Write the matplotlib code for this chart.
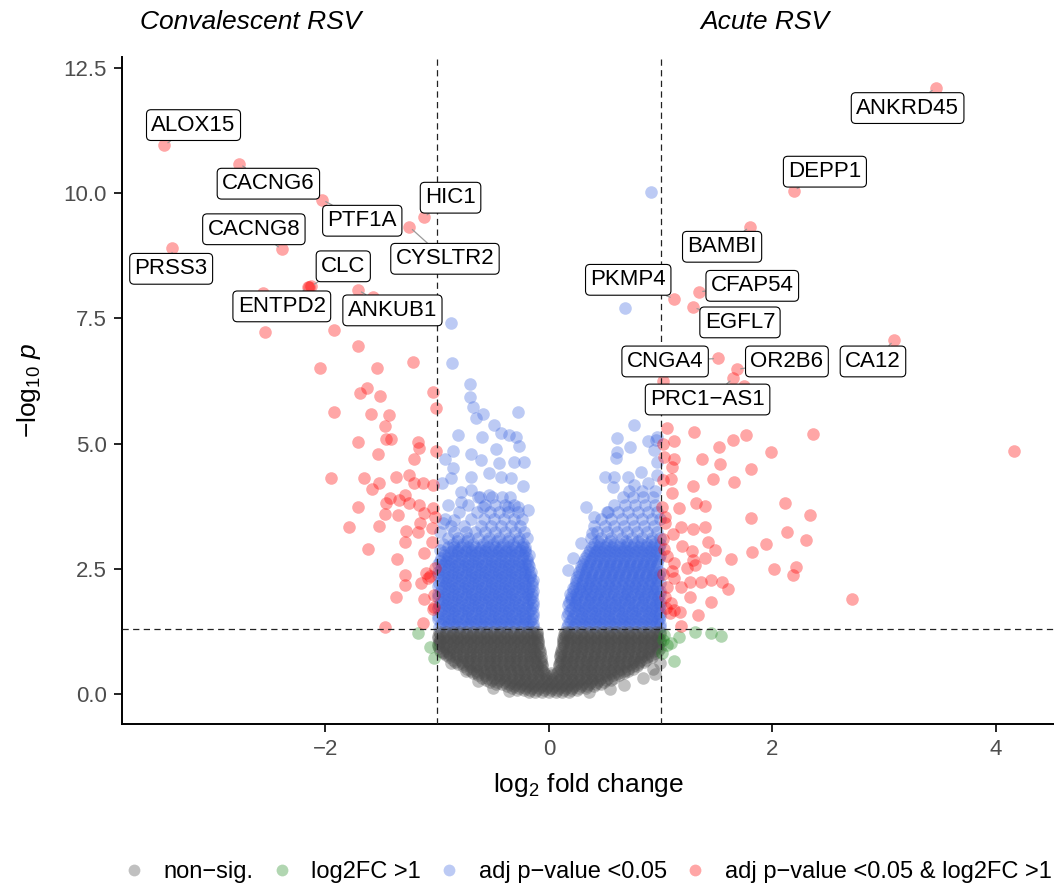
import matplotlib
matplotlib.use("Agg")
import matplotlib.pyplot as plt
from matplotlib.lines import Line2D

plt.rcParams["font.family"] = ["Liberation Sans", "DejaVu Sans"]
plt.rcParams["mathtext.fontset"] = "custom"
plt.rcParams["mathtext.rm"] = "Liberation Sans"
plt.rcParams["mathtext.it"] = "Liberation Sans:italic"

# ---- data (log2FC, -log10 p) ----

# labelled genes
genes = ["ALOX15", "CACNG6", "PTF1A", "HIC1", "CYSLTR2", "CACNG8", "PRSS3", "CLC",
         "ENTPD2", "ANKUB1", "ANKRD45", "DEPP1", "BAMBI", "PKMP4", "CFAP54", "EGFL7",
         "CA12", "CNGA4", "OR2B6", "PRC1\u2212AS1"]
gene_x = [-3.44, -2.77, -2.03, -1.12, -1.25, -2.39, -3.37, -2.13, -2.16, -1.71,
          3.46, 2.19, 1.80, 1.12, 1.34, 1.29, 3.09, 1.51, 1.68, 1.65]
gene_y = [10.96, 10.59, 9.87, 9.52, 9.33, 8.88, 8.90, 8.14, 8.12, 8.07,
          12.10, 10.05, 9.33, 7.89, 8.03, 7.72, 7.06, 6.70, 6.48, 6.30]
label_x = [-3.18, -2.51, -1.67, -0.88, -0.93, -2.64, -3.38, -1.84, -2.39, -1.40,
           3.21, 2.47, 1.55, 0.71, 1.82, 1.71, 2.90, 1.04, 2.13, 1.42]
label_y = [11.36, 10.19, 9.45, 9.91, 8.69, 9.28, 8.49, 8.54, 7.74, 7.66,
           11.70, 10.43, 8.93, 8.27, 8.15, 7.42, 6.64, 6.64, 6.64, 5.88]

# significant and |log2FC| > 1 (red)
red_left_x = [-2.54, -2.56, -1.57, -2.15, -1.92, -1.71, -2.05, -1.54, -1.22, -1.69,
              -1.63, -1.51, -1.04, -1.01, -1.92, -1.59, -1.43, -1.47, -1.71, -1.46,
              -1.41, -1.17, -1.16, -1.53, -1.21, -1.01, -1.95, -1.65, -1.52, -1.58,
              -1.37, -1.25, -1.21, -1.13, -1.04, -1.71, -1.42, -1.46, -1.34, -1.29,
              -1.25, -1.16, -1.35, -1.47, -1.52, -1.79, -1.04, -1.12, -1.02, -1.15,
              -1.17, -1.28, -1.29, -1.05, -1.05, -1.62, -1.12, -1.36, -1.29, -1.29,
              -1.14, -1.08, -1.10, -1.02, -1.37, -1.12, -1.03, -1.04, -1.13, -1.47,
              -1.03, -1.06]
red_left_y = [7.22, 8.00, 7.92, 8.13, 7.26, 6.94, 6.50, 6.50, 6.62, 6.02,
              6.10, 5.96, 6.04, 5.72, 5.64, 5.60, 5.58, 5.36, 5.04, 5.10,
              5.10, 5.04, 4.92, 4.80, 4.70, 4.86, 4.31, 4.31, 4.21, 4.09,
              4.33, 4.37, 4.21, 4.21, 4.17, 3.73, 3.91, 3.81, 3.87, 3.97,
              3.81, 3.77, 3.57, 3.59, 3.35, 3.33, 3.71, 3.61, 3.53, 3.41,
              3.23, 3.25, 3.03, 3.31, 3.03, 2.89, 2.81, 2.69, 2.37, 2.17,
              2.21, 2.31, 2.41, 2.51, 1.93, 1.89, 1.97, 1.69, 1.42, 1.34,
              1.73, 2.35]
red_right_x = [1.02, 1.75, 1.06, 1.30, 1.12, 1.52, 1.65, 1.76, 2.36, 1.99,
               4.16, 1.02, 1.03, 1.12, 1.37, 1.53, 1.10, 1.81, 1.47, 1.66,
               1.29, 1.09, 1.02, 1.10, 1.16, 1.32, 1.40, 2.11, 2.34, 1.81,
               1.01, 1.04, 1.04, 1.11, 1.18, 1.29, 1.40, 2.13, 2.30, 1.42,
               1.49, 1.19, 1.28, 1.94, 1.82, 1.63, 1.40, 1.29, 1.06, 1.12,
               1.24, 1.31, 2.01, 2.21, 2.18, 1.45, 1.55, 1.60, 1.36, 1.26,
               1.12, 1.06, 1.18, 1.26, 1.45, 2.71, 1.09, 1.12, 1.17, 1.33,
               1.18, 1.04, 1.02, 1.05, 1.08, 1.03, 1.10, 1.02]
red_right_y = [6.24, 6.14, 5.32, 5.24, 5.06, 4.94, 5.08, 5.18, 5.20, 4.84,
               4.86, 5.00, 4.74, 4.70, 4.69, 4.59, 4.53, 4.49, 4.29, 4.23,
               4.15, 4.29, 4.27, 4.01, 3.71, 3.81, 3.75, 3.81, 3.57, 3.51,
               3.73, 3.53, 3.41, 3.19, 3.33, 3.29, 3.33, 3.23, 3.07, 3.03,
               2.87, 2.95, 2.85, 2.99, 2.83, 2.69, 2.71, 2.67, 2.75, 2.61,
               2.51, 2.57, 2.49, 2.53, 2.37, 2.27, 2.23, 2.09, 2.23, 2.23,
               2.31, 2.13, 2.13, 1.93, 1.83, 1.89, 1.81, 1.67, 1.63, 1.57,
               1.36, 1.93, 2.40, 1.72, 1.62, 2.90, 2.45, 3.10]

# |log2FC| > 1 only (green)
green_x = [-1.17, -1.06, -1.03, 1.03, 1.16, 1.31, 1.45, 1.54, 1.06, 1.01, 1.12, 1.09, 1.02]
green_y = [1.22, 0.94, 0.72, 1.18, 1.14, 1.24, 1.22, 1.16, 0.98, 0.82, 0.66, 1.02, 1.08]

# adj p < 0.05 only (blue): scattered points
blue_x = [-0.88, -0.87, -0.71, -0.71, -0.68, -0.59, -0.65, -0.49, -0.43, -0.81,
          -0.60, -0.36, -0.29, -0.28, -0.86, -0.93, -0.70, -0.47, -0.27, -0.61,
          -0.45, -0.31, -0.22, -0.86, -0.70, -0.54, -0.43, -0.34, -0.23, -0.96,
          -0.88, -0.79, -0.70, -0.54, -0.63, -0.90, -0.79, -0.59, -0.37, -0.28,
          -0.19, -0.95, -0.85,
          0.91, 0.68, 0.76, 0.61, 0.73, 0.89, 0.97, 0.61, 0.60, 0.94,
          0.50, 0.58, 0.57, 0.71, 0.82, 0.76, 0.89, 0.97, 0.97, 0.33,
          0.40, 0.53, 0.29, 0.39, 0.22, 0.17, 0.96]
blue_y = [7.40, 6.60, 6.18, 5.94, 5.74, 5.60, 5.52, 5.38, 5.22, 5.18,
          5.14, 5.18, 5.14, 5.64, 4.86, 4.69, 4.80, 4.90, 4.96, 4.67,
          4.61, 4.63, 4.63, 4.51, 4.33, 4.41, 4.33, 4.31, 4.15, 4.21,
          4.31, 4.03, 4.07, 3.97, 3.93, 3.77, 3.83, 3.73, 3.73, 3.73,
          3.67, 3.41, 3.47,
          10.03, 7.70, 5.38, 5.12, 4.94, 5.06, 5.14, 4.84, 4.72, 4.88,
          4.33, 4.33, 4.13, 4.33, 4.43, 4.17, 4.21, 4.37, 4.63, 3.73,
          3.53, 3.63, 3.01, 3.21, 2.71, 2.47, 5.08]

# blue dense cloud, one row per -log10 p level
blue_rows = [
    (1.34, [-0.98, -0.92, -0.86, -0.80, -0.74, -0.68, -0.62, -0.56, -0.50, -0.44, -0.38, -0.32, -0.26, -0.20, -0.14,
            0.16, 0.22, 0.28, 0.34, 0.40, 0.46, 0.52, 0.58, 0.64, 0.70, 0.76, 0.82, 0.88, 0.94, 0.99]),
    (1.395, [-0.965, -0.905, -0.845, -0.785, -0.725, -0.665, -0.605, -0.545, -0.485, -0.425, -0.365, -0.305, -0.245, -0.185, -0.14,
             0.175, 0.235, 0.295, 0.355, 0.415, 0.475, 0.535, 0.595, 0.655, 0.715, 0.775, 0.835, 0.895, 0.955, 0.99]),
    (1.45, [-0.95, -0.89, -0.83, -0.77, -0.71, -0.65, -0.59, -0.53, -0.47, -0.41, -0.35, -0.29, -0.23, -0.17,
            0.19, 0.25, 0.31, 0.37, 0.43, 0.49, 0.55, 0.61, 0.67, 0.73, 0.79, 0.85, 0.91, 0.97]),
    (1.505, [-0.995, -0.935, -0.875, -0.815, -0.755, -0.695, -0.635, -0.575, -0.515, -0.455, -0.395, -0.335, -0.275, -0.215, -0.155,
             0.205, 0.265, 0.325, 0.385, 0.445, 0.505, 0.565, 0.625, 0.685, 0.745, 0.805, 0.865, 0.925, 0.985]),
    (1.56, [-0.99, -0.93, -0.86, -0.81, -0.74, -0.69, -0.62, -0.57, -0.50, -0.45, -0.38, -0.33, -0.26, -0.21, -0.14,
            0.16, 0.22, 0.29, 0.34, 0.41, 0.46, 0.53, 0.58, 0.65, 0.70, 0.77, 0.82, 0.89, 0.94, 0.99]),
    (1.615, [-0.965, -0.905, -0.845, -0.785, -0.725, -0.665, -0.605, -0.545, -0.485, -0.425, -0.365, -0.305, -0.245, -0.185, -0.14,
             0.175, 0.235, 0.295, 0.355, 0.415, 0.475, 0.535, 0.595, 0.655, 0.715, 0.775, 0.835, 0.895, 0.955, 0.99]),
    (1.67, [-0.96, -0.89, -0.84, -0.77, -0.72, -0.65, -0.60, -0.53, -0.48, -0.41, -0.36, -0.29, -0.24, -0.17,
            0.19, 0.26, 0.31, 0.38, 0.43, 0.50, 0.55, 0.62, 0.67, 0.74, 0.79, 0.86, 0.91, 0.97]),
    (1.725, [-0.995, -0.935, -0.875, -0.815, -0.755, -0.695, -0.635, -0.575, -0.515, -0.455, -0.395, -0.335, -0.275, -0.215, -0.155,
             0.205, 0.265, 0.325, 0.385, 0.445, 0.505, 0.565, 0.625, 0.685, 0.745, 0.805, 0.865, 0.925, 0.985]),
    (1.78, [-0.98, -0.92, -0.87, -0.80, -0.75, -0.68, -0.63, -0.56, -0.51, -0.44, -0.39, -0.32, -0.27, -0.20, -0.14,
            0.17, 0.23, 0.28, 0.35, 0.40, 0.47, 0.52, 0.59, 0.64, 0.71, 0.76, 0.83, 0.88, 0.95, 0.99]),
    (1.835, [-0.965, -0.905, -0.845, -0.785, -0.725, -0.665, -0.605, -0.545, -0.485, -0.425, -0.365, -0.305, -0.245, -0.185, -0.14,
             0.18, 0.235, 0.295, 0.355, 0.415, 0.475, 0.535, 0.595, 0.655, 0.715, 0.775, 0.835, 0.895, 0.955, 0.99]),
    (1.89, [-0.95, -0.90, -0.83, -0.78, -0.71, -0.66, -0.59, -0.54, -0.47, -0.42, -0.35, -0.30, -0.23, -0.17,
            0.20, 0.25, 0.32, 0.37, 0.44, 0.49, 0.56, 0.61, 0.68, 0.73, 0.80, 0.85, 0.92, 0.97]),
    (1.945, [-0.995, -0.935, -0.875, -0.815, -0.755, -0.695, -0.635, -0.575, -0.515, -0.455, -0.395, -0.335, -0.275, -0.215, -0.155,
             0.195, 0.255, 0.315, 0.375, 0.435, 0.495, 0.555, 0.615, 0.675, 0.735, 0.795, 0.855, 0.915, 0.975]),
    (2.00, [-0.99, -0.93, -0.86, -0.81, -0.74, -0.69, -0.62, -0.57, -0.50, -0.45, -0.38, -0.33, -0.26, -0.20, -0.15,
            0.19, 0.24, 0.30, 0.35, 0.41, 0.46, 0.53, 0.58, 0.65, 0.70, 0.77, 0.82, 0.89, 0.94, 0.99]),
    (2.055, [-0.965, -0.905, -0.845, -0.785, -0.725, -0.665, -0.605, -0.545, -0.485, -0.425, -0.365, -0.305, -0.245, -0.185, -0.14,
             0.215, 0.275, 0.335, 0.395, 0.455, 0.515, 0.575, 0.635, 0.695, 0.755, 0.815, 0.875, 0.935, 0.99]),
    (2.11, [-0.96, -0.89, -0.84, -0.77, -0.72, -0.65, -0.60, -0.53, -0.48, -0.41, -0.36, -0.29, -0.24, -0.18,
            0.22, 0.27, 0.33, 0.38, 0.44, 0.50, 0.56, 0.62, 0.68, 0.74, 0.80, 0.86, 0.92, 0.97]),
    (2.165, [-0.995, -0.935, -0.875, -0.815, -0.755, -0.695, -0.635, -0.575, -0.515, -0.455, -0.395, -0.335, -0.275, -0.215, -0.155,
             0.235, 0.295, 0.355, 0.415, 0.475, 0.535, 0.595, 0.655, 0.715, 0.775, 0.835, 0.895, 0.955]),
    (2.22, [-0.98, -0.92, -0.87, -0.80, -0.75, -0.68, -0.63, -0.56, -0.51, -0.44, -0.39, -0.32, -0.27, -0.21, -0.15,
            0.24, 0.30, 0.35, 0.41, 0.47, 0.53, 0.59, 0.65, 0.71, 0.77, 0.83, 0.89, 0.95, 0.99]),
    (2.275, [-0.965, -0.905, -0.845, -0.785, -0.725, -0.665, -0.605, -0.545, -0.485, -0.425, -0.365, -0.305, -0.245, -0.185, -0.145,
             0.245, 0.305, 0.365, 0.425, 0.485, 0.545, 0.605, 0.665, 0.725, 0.785, 0.845, 0.905, 0.965]),
    (2.33, [-0.95, -0.90, -0.83, -0.78, -0.71, -0.66, -0.59, -0.54, -0.47, -0.42, -0.35, -0.30, -0.23, -0.17,
            0.25, 0.32, 0.38, 0.44, 0.50, 0.56, 0.62, 0.68, 0.74, 0.80, 0.86, 0.92, 0.97]),
    (2.385, [-0.995, -0.935, -0.875, -0.815, -0.755, -0.695, -0.635, -0.575, -0.515, -0.455, -0.395, -0.335, -0.275, -0.215, -0.17,
             0.265, 0.325, 0.385, 0.445, 0.505, 0.565, 0.625, 0.685, 0.745, 0.805, 0.865, 0.925, 0.985]),
    (2.44, [-0.99, -0.93, -0.86, -0.81, -0.74, -0.69, -0.62, -0.57, -0.50, -0.45, -0.38, -0.33, -0.26, -0.21, -0.16,
            0.27, 0.33, 0.39, 0.45, 0.51, 0.57, 0.63, 0.69, 0.75, 0.81, 0.87, 0.93, 0.99]),
    (2.495, [-0.965, -0.905, -0.845, -0.785, -0.725, -0.665, -0.605, -0.545, -0.485, -0.425, -0.365, -0.305, -0.245, -0.185,
             0.285, 0.345, 0.405, 0.465, 0.525, 0.585, 0.645, 0.705, 0.765, 0.825, 0.885, 0.945]),
    (2.55, [-0.96, -0.89, -0.84, -0.77, -0.72, -0.65, -0.60, -0.53, -0.48, -0.41, -0.36, -0.29, -0.24, -0.18,
            0.29, 0.35, 0.42, 0.48, 0.54, 0.60, 0.66, 0.72, 0.78, 0.84, 0.90, 0.96]),
    (2.605, [-0.995, -0.935, -0.875, -0.815, -0.755, -0.695, -0.635, -0.575, -0.515, -0.455, -0.395, -0.335, -0.275, -0.215, -0.19,
             0.305, 0.365, 0.425, 0.485, 0.545, 0.605, 0.665, 0.725, 0.785, 0.845, 0.905, 0.965]),
    (2.66, [-0.97, -0.92, -0.87, -0.80, -0.75, -0.68, -0.63, -0.56, -0.51, -0.44, -0.39, -0.32, -0.27, -0.20,
            0.31, 0.37, 0.43, 0.49, 0.55, 0.61, 0.67, 0.73, 0.79, 0.85, 0.91, 0.97]),
    (2.715, [-0.965, -0.905, -0.845, -0.785, -0.725, -0.665, -0.605, -0.545, -0.485, -0.425, -0.365, -0.305, -0.245, -0.195,
             0.325, 0.385, 0.445, 0.505, 0.565, 0.625, 0.685, 0.745, 0.805, 0.865, 0.925, 0.985]),
    (2.77, [-0.94, -0.90, -0.83, -0.78, -0.71, -0.66, -0.59, -0.54, -0.47, -0.42, -0.35, -0.30, -0.23, -0.18,
            0.34, 0.40, 0.46, 0.52, 0.58, 0.64, 0.70, 0.76, 0.82, 0.88, 0.94, 0.99]),
    (2.825, [-0.935, -0.875, -0.815, -0.755, -0.695, -0.635, -0.575, -0.515, -0.455, -0.395, -0.335, -0.275, -0.215,
             0.355, 0.415, 0.475, 0.535, 0.595, 0.655, 0.715, 0.775, 0.835, 0.895, 0.955]),
    (2.88, [-0.97, -0.86, -0.81, -0.74, -0.69, -0.62, -0.57, -0.50, -0.45, -0.38, -0.33, -0.26, -0.21,
            0.37, 0.43, 0.49, 0.55, 0.61, 0.67, 0.73, 0.79, 0.85, 0.91, 0.97]),
    (2.935, [-0.905, -0.845, -0.785, -0.725, -0.665, -0.605, -0.545, -0.485, -0.425, -0.365, -0.305, -0.245, -0.215,
             0.385, 0.445, 0.505, 0.565, 0.625, 0.685, 0.745, 0.805, 0.865, 0.925, 0.985]),
    (2.99, [-0.95, -0.86, -0.77, -0.68, -0.59, -0.50, -0.41, -0.32, -0.23,
            0.40, 0.46, 0.52, 0.58, 0.64, 0.70, 0.76, 0.82, 0.88, 0.94, 0.99]),
    (3.05, [-0.82, -0.73, -0.55, -0.46, -0.37, -0.28,
            0.44, 0.55, 0.69, 0.80, 0.91]),
    (3.11, [-0.90, -0.81, -0.72, -0.63, -0.54, -0.45, -0.36, -0.27, -0.20,
            0.38, 0.47, 0.56, 0.65, 0.74, 0.83, 0.92, 0.99]),
    (3.23, [-0.97, -0.85, -0.74, -0.66, -0.57, -0.48, -0.39, -0.30, -0.22,
            0.43, 0.52, 0.61, 0.70, 0.79, 0.88, 0.97]),
    (3.36, [-0.88, -0.76, -0.61, -0.52, -0.43, -0.34, -0.26,
            0.40, 0.50, 0.58, 0.67, 0.76, 0.85, 0.94]),
    (3.50, [-0.93, -0.70, -0.58, -0.49, -0.40, -0.31, -0.24,
            0.47, 0.56, 0.65, 0.74, 0.83, 0.92, 0.99]),
    (3.64, [-0.80, -0.64, -0.53, -0.45, -0.37, -0.28,
            0.52, 0.62, 0.71, 0.80, 0.89, 0.97]),
    (3.78, [-0.72, -0.57, -0.48, -0.39, -0.31,
            0.58, 0.68, 0.77, 0.86, 0.95]),
    (3.93, [-0.62, -0.51, -0.42, -0.35,
            0.66, 0.75, 0.84, 0.93]),
    (4.05, [0.72, 0.83, 0.95]),
]

# non-significant (grey): scattered points and dense cloud rows
grey_x = [-0.95, -0.88, -0.74, -0.63, -0.50, -0.36, 0.36, 0.55, 0.67, 0.84, 0.95, 0.99, -0.98, 0.93]
grey_y = [0.84, 0.62, 0.46, 0.25, 0.12, 0.05, 0.04, 0.10, 0.18, 0.32, 0.40, 0.62, 1.05, 0.50]
grey_rows = [
    (0.03, [-0.18, -0.12, -0.06, 0.00, 0.06, 0.12, 0.18]),
    (0.07, [-0.285, -0.225, -0.165, -0.105, -0.045, 0.015, 0.075, 0.135, 0.195, 0.255]),
    (0.11, [-0.33, -0.27, -0.21, -0.15, -0.09, -0.03, 0.03, 0.09, 0.15, 0.21, 0.27, 0.33]),
    (0.15, [-0.375, -0.315, -0.255, -0.195, -0.135, -0.075, -0.015, 0.045, 0.105, 0.165, 0.225, 0.285,
            0.345, 0.405]),
    (0.19, [-0.47, -0.42, -0.36, -0.30, -0.24, -0.18, -0.12, -0.06, 0.00, 0.06, 0.12, 0.18, 0.24, 0.30,
            0.36, 0.42, 0.47]),
    (0.235, [-0.525, -0.465, -0.405, -0.345, -0.285, -0.225, -0.165, -0.105, -0.045, 0.015, 0.075, 0.135,
             0.195, 0.255, 0.315, 0.375, 0.435, 0.495]),
    (0.28, [-0.56, -0.51, -0.45, -0.39, -0.33, -0.27, -0.21, -0.15, -0.09, -0.03, 0.03, 0.09, 0.15, 0.21,
            0.27, 0.33, 0.39, 0.45, 0.51, 0.56]),
    (0.325, [-0.6, -0.555, -0.495, -0.435, -0.375, -0.315, -0.255, -0.195, -0.135, -0.075, -0.015, 0.045,
             0.105, 0.165, 0.225, 0.285, 0.345, 0.405, 0.465, 0.525, 0.585]),
    (0.37, [-0.63, -0.57, -0.51, -0.45, -0.39, -0.33, -0.27, -0.21, -0.15, -0.09, -0.03, 0.03, 0.09, 0.15,
            0.21, 0.27, 0.33, 0.39, 0.45, 0.51, 0.57, 0.63]),
    (0.415, [-0.675, -0.585, -0.525, -0.465, -0.405, -0.345, -0.285, -0.225, -0.165, -0.105, -0.045, 0.015,
             0.075, 0.135, 0.195, 0.255, 0.315, 0.375, 0.435, 0.495, 0.555, 0.615, 0.675, -0.645]),
    (0.46, [-0.70, -0.64, -0.58, -0.52, -0.46, -0.40, -0.34, -0.28, -0.22, -0.16, -0.10, -0.05, 0.08, 0.13,
            0.19, 0.25, 0.31, 0.37, 0.43, 0.49, 0.55, 0.61, 0.67, 0.71]),
    (0.505, [-0.735, -0.675, -0.615, -0.555, -0.495, -0.435, -0.375, -0.315, -0.255, -0.195, -0.135, -0.075,
             0.105, 0.165, 0.225, 0.285, 0.345, 0.405, 0.465, 0.525, 0.585, 0.645, 0.705, 0.75]),
    (0.55, [-0.77, -0.71, -0.65, -0.59, -0.53, -0.47, -0.41, -0.35, -0.29, -0.23, -0.17, -0.11, -0.06, 0.09,
            0.15, 0.21, 0.27, 0.33, 0.39, 0.45, 0.51, 0.57, 0.63, 0.69, 0.75, 0.79]),
    (0.595, [-0.81, -0.765, -0.705, -0.645, -0.585, -0.525, -0.465, -0.405, -0.345, -0.285, -0.225, -0.165,
             -0.105, -0.06, 0.09, 0.135, 0.195, 0.255, 0.315, 0.375, 0.435, 0.495, 0.555, 0.615, 0.675, 0.735,
             0.795]),
    (0.64, [-0.84, -0.78, -0.72, -0.66, -0.60, -0.54, -0.48, -0.42, -0.36, -0.30, -0.24, -0.18, -0.12, -0.07,
            0.10, 0.15, 0.21, 0.27, 0.33, 0.39, 0.45, 0.51, 0.57, 0.63, 0.69, 0.75, 0.81, 0.85]),
    (0.685, [-0.855, -0.795, -0.735, -0.675, -0.615, -0.555, -0.495, -0.435, -0.375, -0.315, -0.255, -0.195,
             -0.135, -0.075, 0.105, 0.165, 0.225, 0.285, 0.345, 0.405, 0.465, 0.525, 0.585, 0.645, 0.705, 0.765,
             0.825, 0.87]),
    (0.73, [-0.89, -0.83, -0.77, -0.71, -0.65, -0.59, -0.53, -0.47, -0.41, -0.35, -0.29, -0.23, -0.17, -0.12,
            -0.07, 0.10, 0.16, 0.22, 0.28, 0.34, 0.40, 0.46, 0.52, 0.58, 0.64, 0.70, 0.76, 0.82, 0.88, 0.92]),
    (0.775, [-0.925, -0.885, -0.825, -0.765, -0.705, -0.645, -0.585, -0.525, -0.465, -0.405, -0.345, -0.285,
             -0.225, -0.165, -0.105, 0.10, 0.135, 0.195, 0.255, 0.315, 0.375, 0.435, 0.495, 0.555, 0.615, 0.675,
             0.735, 0.795, 0.855, 0.915]),
    (0.82, [-0.95, -0.89, -0.83, -0.77, -0.71, -0.65, -0.59, -0.53, -0.47, -0.41, -0.35, -0.29, -0.23, -0.17,
            -0.12, -0.08, 0.11, 0.17, 0.23, 0.29, 0.35, 0.41, 0.47, 0.53, 0.59, 0.65, 0.71, 0.77, 0.83, 0.89, 0.95]),
    (0.865, [-0.975, -0.915, -0.855, -0.795, -0.735, -0.675, -0.615, -0.555, -0.495, -0.435, -0.375, -0.315,
             -0.255, -0.195, -0.135, -0.08, 0.11, 0.165, 0.225, 0.285, 0.345, 0.405, 0.465, 0.525, 0.585, 0.645,
             0.705, 0.765, 0.825, 0.885, 0.945, 0.98]),
    (0.91, [-0.98, -0.92, -0.86, -0.80, -0.74, -0.68, -0.62, -0.56, -0.50, -0.44, -0.38, -0.32, -0.26, -0.20,
            -0.14, -0.09, 0.12, 0.18, 0.24, 0.30, 0.36, 0.42, 0.48, 0.54, 0.60, 0.66, 0.72, 0.78, 0.84, 0.90,
            0.96, 0.99]),
    (0.955, [-0.99, -0.945, -0.885, -0.825, -0.765, -0.705, -0.645, -0.585, -0.525, -0.465, -0.405, -0.345,
             -0.285, -0.225, -0.165, -0.105, 0.135, 0.195, 0.255, 0.315, 0.375, 0.435, 0.495, 0.555, 0.615,
             0.675, 0.735, 0.795, 0.855, 0.915, 0.975]),
    (1.00, [-0.99, -0.94, -0.88, -0.82, -0.76, -0.70, -0.64, -0.58, -0.52, -0.46, -0.40, -0.34, -0.28, -0.22,
            -0.16, -0.10, 0.13, 0.19, 0.25, 0.31, 0.37, 0.43, 0.49, 0.55, 0.61, 0.67, 0.73, 0.79, 0.85, 0.91,
            0.97]),
    (1.04, [-0.975, -0.915, -0.855, -0.795, -0.735, -0.675, -0.615, -0.555, -0.495, -0.435, -0.375, -0.315,
            -0.255, -0.195, -0.135, -0.095, 0.125, 0.165, 0.225, 0.285, 0.345, 0.405, 0.465, 0.525, 0.585,
            0.645, 0.705, 0.765, 0.825, 0.885, 0.945, 0.99]),
    (1.08, [-0.97, -0.91, -0.85, -0.79, -0.73, -0.67, -0.61, -0.55, -0.49, -0.43, -0.37, -0.31, -0.25, -0.19,
            -0.14, -0.10, 0.13, 0.17, 0.23, 0.29, 0.35, 0.41, 0.47, 0.53, 0.59, 0.65, 0.71, 0.77, 0.83, 0.89,
            0.95, 0.99]),
    (1.12, [-0.99, -0.945, -0.885, -0.825, -0.765, -0.705, -0.645, -0.585, -0.525, -0.465, -0.405, -0.345,
            -0.285, -0.225, -0.165, -0.105, 0.13, 0.195, 0.255, 0.315, 0.375, 0.435, 0.495, 0.555, 0.615, 0.675,
            0.735, 0.795, 0.855, 0.915, 0.975]),
    (1.16, [-0.99, -0.94, -0.88, -0.82, -0.76, -0.70, -0.64, -0.58, -0.52, -0.46, -0.40, -0.34, -0.28, -0.22,
            -0.16, -0.11, 0.14, 0.19, 0.25, 0.31, 0.37, 0.43, 0.49, 0.55, 0.61, 0.67, 0.73, 0.79, 0.85, 0.91,
            0.97]),
    (1.20, [-0.975, -0.915, -0.855, -0.795, -0.735, -0.675, -0.615, -0.555, -0.495, -0.435, -0.375, -0.315,
            -0.255, -0.195, -0.135, -0.105, 0.135, 0.165, 0.225, 0.285, 0.345, 0.405, 0.465, 0.525, 0.585,
            0.645, 0.705, 0.765, 0.825, 0.885, 0.945, 0.99]),
    (1.24, [-0.98, -0.92, -0.86, -0.80, -0.74, -0.68, -0.62, -0.56, -0.50, -0.44, -0.38, -0.32, -0.26, -0.20,
            -0.15, -0.11, 0.14, 0.18, 0.24, 0.30, 0.36, 0.42, 0.48, 0.54, 0.60, 0.66, 0.72, 0.78, 0.84, 0.90,
            0.96, 0.99]),
]

legend_labels = ["non\u2212sig.", "log2FC >1", "adj p\u2212value <0.05", "adj p\u2212value <0.05 & log2FC >1"]
legend_colors = ["#4D4D4D", "forestgreen", "royalblue", "red"]
fc_cut = 1
p_cut = 1.3


def unroll(rows):
    xs, ys = [], []
    for y, row in rows:
        xs += row
        ys += [y] * len(row)
    return xs, ys


blue_cx, blue_cy = unroll(blue_rows)
grey_cx, grey_cy = unroll(grey_rows)

fig = plt.figure(figsize=(10.54, 8.88), dpi=100)
ax = fig.add_axes([122 / 1054, 164 / 888, 932 / 1054, 667 / 888])

pt = dict(s=82, alpha=0.35, linewidths=0)
ax.scatter(blue_cx + blue_x, blue_cy + blue_y, color="royalblue", zorder=2, **pt)
ax.scatter(grey_cx + grey_x, grey_cy + grey_y, color="#4D4D4D", zorder=2, **pt)
ax.scatter(green_x, green_y, color="forestgreen", zorder=2, **pt)
ax.scatter(red_left_x + red_right_x + gene_x, red_left_y + red_right_y + gene_y,
           color="red", zorder=2, **pt)

for v in (-fc_cut, fc_cut):
    ax.axvline(v, color="#222222", lw=0.9, ls=(0, (5, 3.5)), zorder=3)
ax.axhline(p_cut, color="#222222", lw=0.9, ls=(0, (5, 3.5)), zorder=3)

for g, x, y, lx, ly in zip(genes, gene_x, gene_y, label_x, label_y):
    ax.annotate(g, xy=(x, y), xytext=(lx, ly), ha="center", va="center", fontsize=16,
                zorder=5,
                bbox=dict(boxstyle="round,pad=0.22,rounding_size=0.2", fc="white",
                          ec="black", lw=0.8),
                arrowprops=dict(arrowstyle="-", color="#9a9a9a", lw=0.9,
                                shrinkA=0, shrinkB=3))

ax.set_xlim(-3.82, 4.52)
ax.set_ylim(-0.6, 12.72)
ax.set_xticks([-2, 0, 2, 4])
ax.set_yticks([0, 2.5, 5, 7.5, 10, 12.5])
ax.set_yticklabels(["0.0", "2.5", "5.0", "7.5", "10.0", "12.5"])
ax.spines[["top", "right"]].set_visible(False)
for s in ("left", "bottom"):
    ax.spines[s].set_linewidth(1.4)
ax.tick_params(labelsize=16, labelcolor="#4D4D4D", length=6, width=1.2, pad=5)

ax.set_xlabel(r"$\mathrm{log}_{2}$ fold change", fontsize=19, labelpad=8)
ax.set_ylabel(r"$-\mathrm{log}_{10}\ \mathit{p}$", fontsize=19, labelpad=15)

fig.text(251 / 1054, 1 - 22 / 888, "Convalescent RSV", style="italic", fontsize=19,
         ha="center", va="center")
fig.text(765 / 1054, 1 - 22 / 888, "Acute RSV", style="italic", fontsize=19,
         ha="center", va="center")

handles = [Line2D([], [], marker="o", ls="", markersize=8.5, markerfacecolor=c,
                  markeredgewidth=0, alpha=0.35) for c in legend_colors]
ax.legend(handles, legend_labels, loc="center", bbox_to_anchor=(0.5, -0.222), ncol=4,
          frameon=False, fontsize=17, handlelength=0.8, handletextpad=0.85,
          columnspacing=0.8)

fig.savefig("out.png", dpi=100)
